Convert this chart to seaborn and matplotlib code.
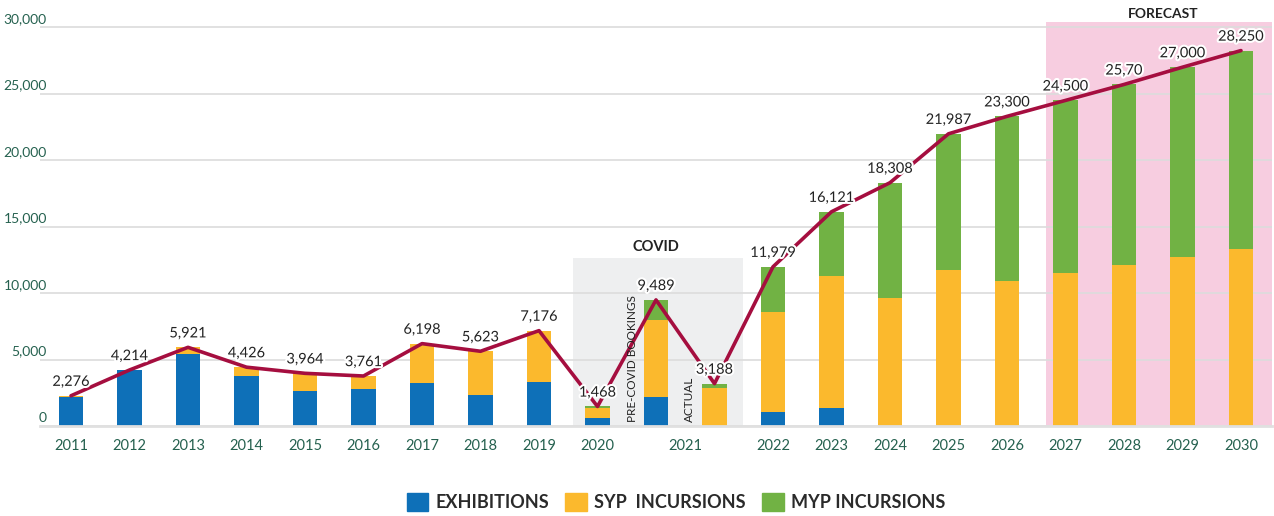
import matplotlib
matplotlib.use("Agg")
import matplotlib.pyplot as plt
import matplotlib.patheffects as pe
from matplotlib.patches import Patch
import seaborn as sns
import pandas as pd

# ---------------------------
# data (2021 has two bars: pre-covid bookings and actual)
# ---------------------------
slots = list(range(21))
year_ticks = [0, 1, 2, 3, 4, 5, 6, 7, 8, 9, 10.5, 12, 13, 14, 15, 16, 17, 18, 19, 20]
year_labels = ["2011", "2012", "2013", "2014", "2015", "2016", "2017", "2018", "2019",
               "2020", "2021", "2022", "2023", "2024", "2025", "2026", "2027", "2028",
               "2029", "2030"]

exhibitions = [2180, 4214, 5400, 3760, 2600, 2780, 3230, 2350, 3300, 600, 2150, 0,
               1050, 1350, 0, 0, 0, 0, 0, 0, 0]
syp = [70, 0, 521, 666, 1364, 981, 2968, 3273, 3876, 780, 5850, 2850,
       7550, 9950, 9650, 11750, 10900, 11530, 12080, 12680, 13300]
myp = [26, 0, 0, 0, 0, 0, 0, 0, 0, 88, 1489, 338,
       3379, 4821, 8658, 10237, 12400, 12970, 13620, 14320, 14950]
totals = [2276, 4214, 5921, 4426, 3964, 3761, 6198, 5623, 7176, 1468, 9489, 3188,
          11979, 16121, 18308, 21987, 23300, 24500, 25700, 27000, 28250]
total_labels = ["2,276", "4,214", "5,921", "4,426", "3,964", "3,761", "6,198", "5,623",
                "7,176", "1,468", "9,489", "3,188", "11,979", "16,121", "18,308",
                "21,987", "23,300", "24,500", "25,70", "27,000", "28,250"]

df = pd.DataFrame({"slot": slots, "exh": exhibitions, "syp": syp, "myp": myp, "total": totals})
df["top_green"] = df["exh"] + df["syp"] + df["myp"]
df["top_yellow"] = df["exh"] + df["syp"]

BLUE = "#0e70b8"
YELLOW = "#fbb92d"
GREEN = "#71b244"
LINE = "#a50e3f"
TEAL = "#25614f"
FONT = ["Lato", "DejaVu Sans"]

sns.set_theme(style="white")
plt.rcParams["font.family"] = FONT

fig = plt.figure(figsize=(12.74, 5.16), dpi=100)
ax = fig.add_axes([40 / 1274, 90 / 516, 1232 / 1274, 404 / 516])

# shaded regions
ax.axvspan(16.66, 20.6, ymin=0, ymax=1, color="#f7cde0", lw=0, zorder=0)
ax.axvspan(8.58, 11.49, ymin=0, ymax=12630 / 30400, color="#eeeff0", lw=0, zorder=0)

# stacked bars (drawn as overlapping cumulative heights)
for col, c in [("top_green", GREEN), ("top_yellow", YELLOW), ("exh", BLUE)]:
    sns.barplot(data=df, x="slot", y=col, native_scale=True, width=0.42,
                color=c, saturation=1, linewidth=0, errorbar=None, ax=ax, zorder=2)

sns.lineplot(data=df, x="slot", y="total", color=LINE, lw=2.6, ax=ax, zorder=3)

for x, y, t in zip(slots, totals, total_labels):
    ax.annotate(t, (x, y), xytext=(0, 10), textcoords="offset points",
                ha="center", va="center", fontsize=10.5, color="#222222", zorder=5,
                path_effects=[pe.withStroke(linewidth=3, foreground="white")])

ax.set_xlim(-0.53, 20.53)
ax.set_ylim(0, 30400)

# grid and axes
ax.set_yticks(range(0, 30001, 5000))
ax.set_yticklabels([])
ax.yaxis.grid(True, color="#dcdcdc", lw=1.2)
ax.set_axisbelow(True)
ax.tick_params(axis="y", length=0)
for v in range(0, 30001, 5000):
    ax.annotate(f"{v:,}", (0, v), xycoords=("axes fraction", "data"),
                xytext=(5, 6), textcoords="offset points", ha="right", va="center",
                fontsize=10, color=TEAL)

ax.set_xticks(year_ticks)
ax.set_xticklabels(year_labels)
ax.tick_params(axis="x", length=0, pad=9, labelsize=10.5, labelcolor=TEAL)
ax.set_xlabel("")
ax.set_ylabel("")
for s in ["left", "right", "top"]:
    ax.spines[s].set_visible(False)
ax.spines["bottom"].set_color("#e0e0e0")
ax.spines["bottom"].set_linewidth(2)

# annotations
ax.text(10.0, 13480, "COVID", ha="center", va="center", fontsize=10.5,
        fontweight="bold", color="#222222")
ax.text(18.67, 31000, "FORECAST", ha="center", va="center", fontsize=10,
        fontweight="bold", color="#222222", clip_on=False)
ax.text(9.59, 300, "PRE-COVID BOOKINGS", rotation=90, ha="center", va="bottom",
        fontsize=8.5, color="#222222")
ax.text(10.58, 300, "ACTUAL", rotation=90, ha="center", va="bottom",
        fontsize=8.5, color="#222222")

handles = [Patch(color=BLUE, label="EXHIBITIONS"),
           Patch(color=YELLOW, label="SYP  INCURSIONS"),
           Patch(color=GREEN, label="MYP INCURSIONS")]
leg = fig.legend(handles=handles, loc="center", bbox_to_anchor=(676 / 1274, 14 / 516),
                 ncol=3, frameon=False, handlelength=1.2, handleheight=1.2,
                 handletextpad=0.4, columnspacing=0.9,
                 prop={"family": FONT, "weight": "bold", "size": 13})
for t in leg.get_texts():
    t.set_color("#2a2a2a")

fig.savefig("out.png", dpi=100)
